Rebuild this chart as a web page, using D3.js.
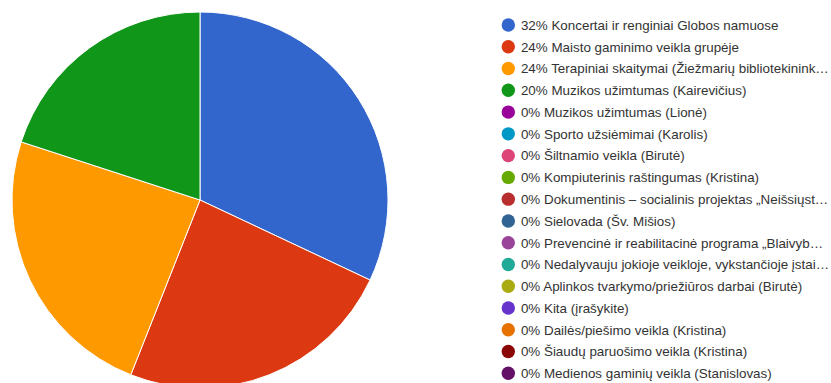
<!DOCTYPE html>
<html>
<head>
<meta charset="utf-8">
<script src="https://cdn.jsdelivr.net/npm/d3@7/dist/d3.min.js"></script>
<style>
  html, body { margin: 0; padding: 0; background: #ffffff; }
  svg { display: block; }
</style>
</head>
<body>
<div id="chart"></div>
<script>
// Responses per activity (counts) and their legend labels
const categories = [
  "Koncertai ir renginiai Globos namuose",
  "Maisto gaminimo veikla grupėje",
  "Terapiniai skaitymai (Žiežmarių bibliotekinink…",
  "Muzikos užimtumas (Kairevičius)",
  "Muzikos užimtumas (Lionė)",
  "Sporto užsiėmimai (Karolis)",
  "Šiltnamio veikla (Birutė)",
  "Kompiuterinis raštingumas (Kristina)",
  "Dokumentinis – socialinis projektas „Neišsiųst…",
  "Sielovada (Šv. Mišios)",
  "Prevencinė ir reabilitacinė programa „Blaivyb…",
  "Nedalyvauju jokioje veikloje, vykstančioje įstai…",
  "Aplinkos tvarkymo/priežiūros darbai (Birutė)",
  "Kita (įrašykite)",
  "Dailės/piešimo veikla (Kristina)",
  "Šiaudų paruošimo veikla (Kristina)",
  "Medienos gaminių veikla (Stanislovas)"
];
const counts = [8, 6, 6, 5, 0, 0, 0, 0, 0, 0, 0, 0, 0, 0, 0, 0, 0];
const palette = [
  "#3366cc", "#dc3912", "#ff9900", "#109618", "#990099", "#0099c6",
  "#dd4477", "#66aa00", "#b82e2e", "#316395", "#994499", "#22aa99",
  "#aaaa11", "#6633cc", "#e67300", "#8b0707", "#651067"
];

const W = 831, H = 383;
const svg = d3.select("#chart").append("svg")
  .attr("width", W).attr("height", H);

const total = d3.sum(counts);
const data = categories.map((c, i) => ({ name: c, value: counts[i], color: palette[i] }));

// Pie
const cx = 200, cy = 200, R = 188;
const pie = d3.pie().value(d => d.value).sort(null);
const arc = d3.arc().innerRadius(0).outerRadius(R);

svg.append("g")
  .attr("transform", `translate(${cx},${cy})`)
  .selectAll("path")
  .data(pie(data).filter(d => d.data.value > 0))
  .join("path")
  .attr("d", arc)
  .attr("fill", d => d.data.color)
  .attr("stroke", "#ffffff")
  .attr("stroke-width", 1);

// Legend
const legendX = 508.3, legendY0 = 25, rowH = 21.77;
const pct = d3.format(".0%");
const rows = svg.append("g").selectAll("g")
  .data(data)
  .join("g")
  .attr("transform", (d, i) => `translate(${legendX},${legendY0 + i * rowH})`);

rows.append("circle")
  .attr("r", 6.7)
  .attr("fill", d => d.color);

rows.append("text")
  .attr("x", 12.6)
  .attr("dy", "0.36em")
  .attr("font-family", "Arial, 'Liberation Sans', sans-serif")
  .attr("font-size", 13.4)
  .attr("fill", "#333333")
  .text(d => `${pct(d.value / total)} ${d.name}`);
</script>
</body>
</html>
